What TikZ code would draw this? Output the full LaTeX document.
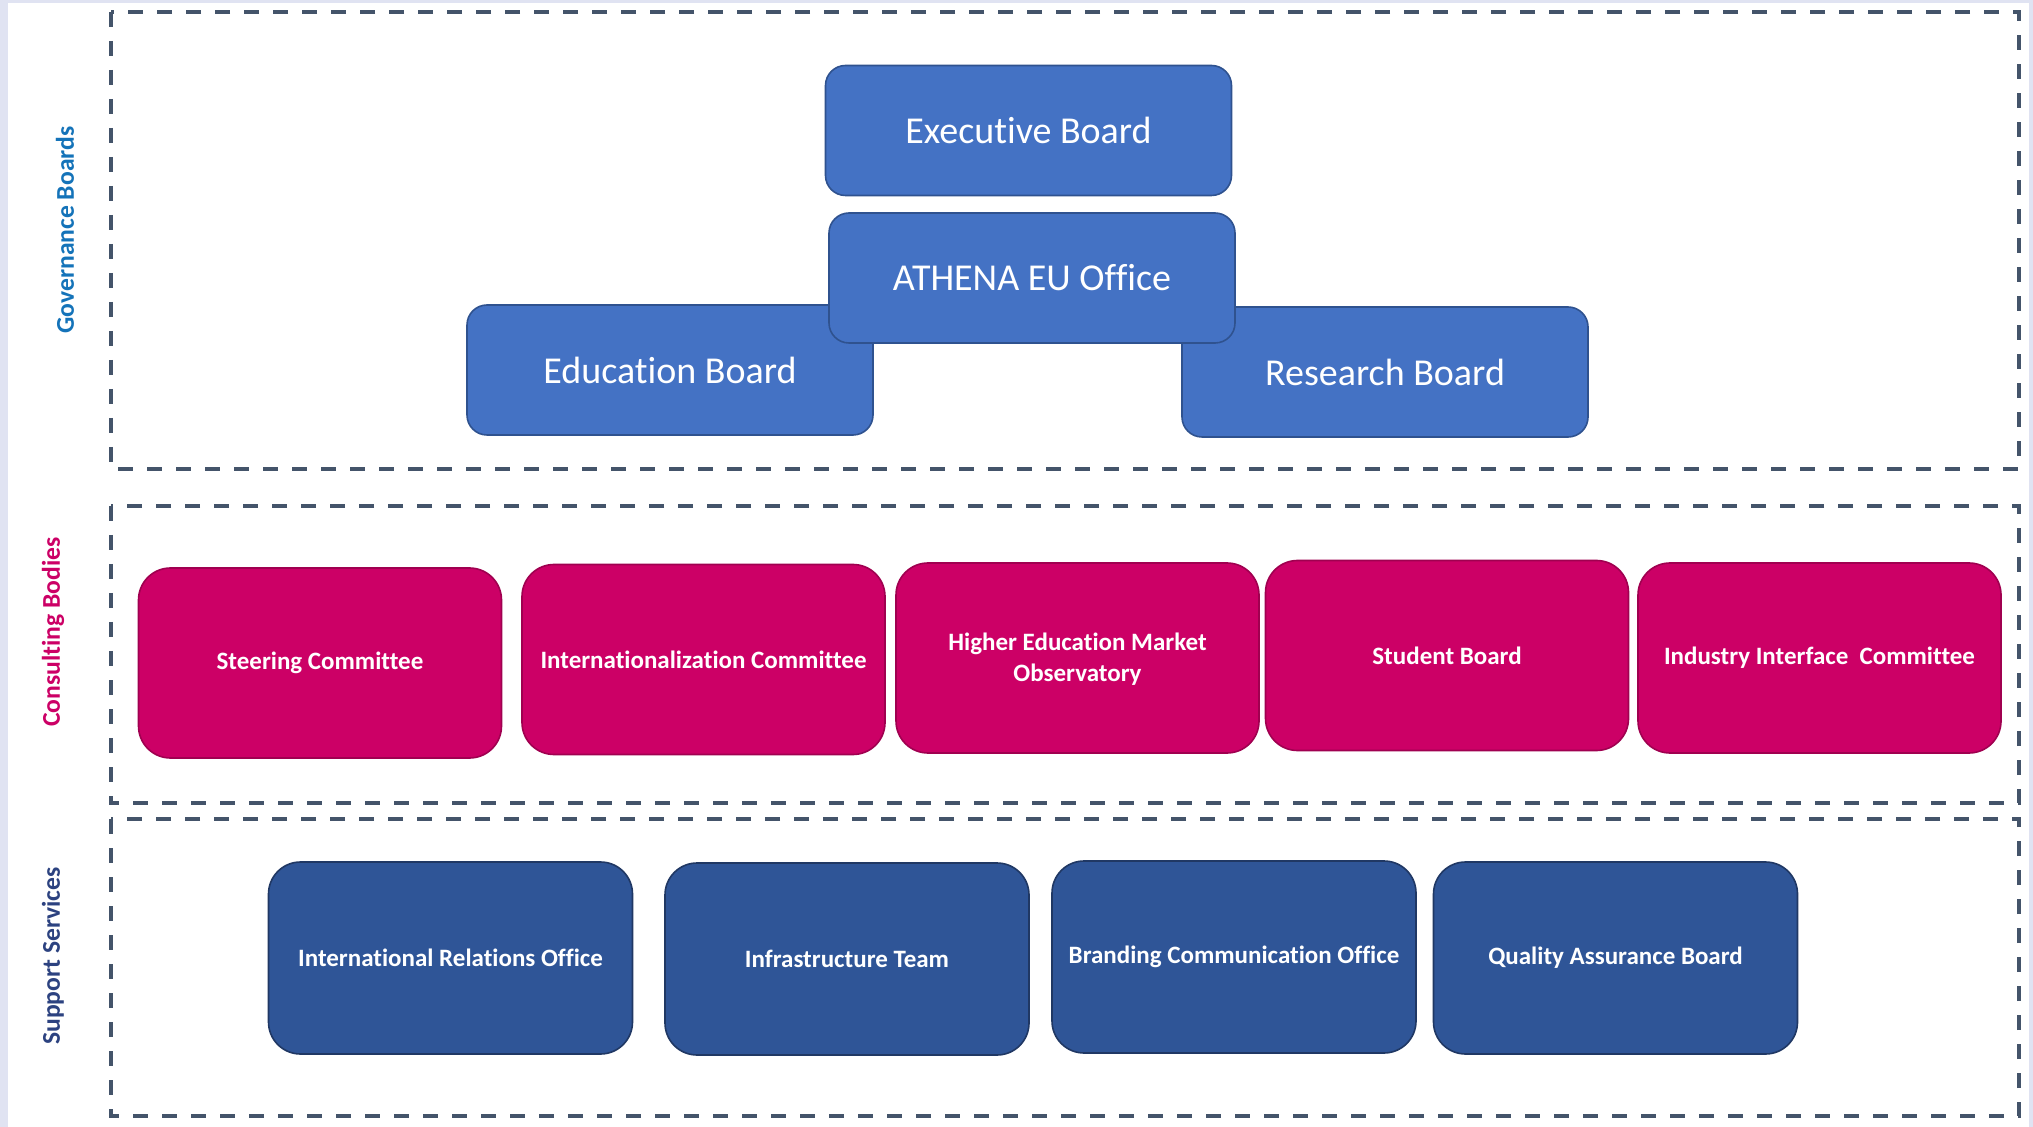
\documentclass[tikz,border=0pt]{standalone}
\usepackage{fontspec}
\setmainfont{Carlito}[Ligatures=NoCommon]
\definecolor{govfill}{RGB}{68,114,196}
\definecolor{govline}{RGB}{47,82,143}
\definecolor{consfill}{RGB}{204,0,102}
\definecolor{consline}{RGB}{160,0,80}
\definecolor{suppfill}{RGB}{47,85,151}
\definecolor{suppline}{RGB}{32,56,100}
\definecolor{frameline}{RGB}{68,84,106}
\definecolor{govtext}{RGB}{20,115,185}
\definecolor{supptext}{RGB}{44,66,128}
\definecolor{pagetint}{RGB}{224,227,242}
\tikzset{
  govbox/.style={draw=govline,fill=govfill,line width=0.8pt,rounded corners=10pt,
    minimum width=203pt,minimum height=65pt,inner sep=0pt,text=white,
    font=\fontsize{19}{23}\selectfont},
  consbox/.style={draw=consline,fill=consfill,line width=0.8pt,rounded corners=16pt,
    minimum width=181.5pt,minimum height=95pt,inner sep=0pt,text=white,align=center,
    font=\bfseries\fontsize{12.5}{15.5}\selectfont},
  suppbox/.style={draw=suppline,fill=suppfill,line width=0.8pt,rounded corners=16pt,
    minimum width=182pt,minimum height=96pt,inner sep=0pt,text=white,
    font=\bfseries\fontsize{12.5}{15.5}\selectfont},
  layer/.style={draw=frameline,line width=1.6pt,dash pattern=on 7.5pt off 7pt},
  sidelabel/.style={rotate=90,inner sep=0pt,font=\bfseries\fontsize{12.8}{15}\selectfont}
}
\begin{document}
\begin{tikzpicture}[x=0.5pt,y=-0.5pt]
\useasboundingbox (0,0) rectangle (2033,1127);
\fill[pagetint] (0,0) rectangle (2033,1127);
\fill[white] (8,3) rectangle (2029,1127);

% layers
\draw[layer] (111,12) rectangle (2019,469);
\draw[layer] (111,506) rectangle (2019,803);
\draw[layer] (111,819) rectangle (2019,1116);

\node (govlabel) [sidelabel,text=govtext] at (65,230) {Governance Boards};
\node (conslabel) [sidelabel,text=consfill] at (53,632) {Consulting Bodies};
\node (supplabel) [sidelabel,text=supptext] at (53,956) {Support Services};

% governance boards
\node (education) [govbox] at (670,370) {Education Board};
\node (research) [govbox] at (1385,372) {Research Board};
\node (executive) [govbox] at (1028.5,130.5) {Executive Board};
\node (athena) [govbox] at (1032,278) {ATHENA EU Office};

% consulting bodies
\node (steering) [consbox] at (320,663) {Steering Committee};
\node (internat) [consbox] at (703.5,659.5) {Internationalization Committee};
\node (observatory) [consbox] at (1077.5,658) {\rule{0pt}{10pt}Higher Education Market\\Observatory};
\node (student) [consbox] at (1447,655.5) {Student Board};
\node (industry) [consbox] at (1819.5,658) {Industry Interface\ \ Committee};

% support services
\node (relations) [suppbox] at (450.5,958) {International Relations Office};
\node (infra) [suppbox] at (847,959) {Infrastructure Team};
\node (branding) [suppbox] at (1234,957) {Branding Communication Office};
\node (quality) [suppbox] at (1615.5,958) {Quality Assurance Board};

\end{tikzpicture}
\end{document}
